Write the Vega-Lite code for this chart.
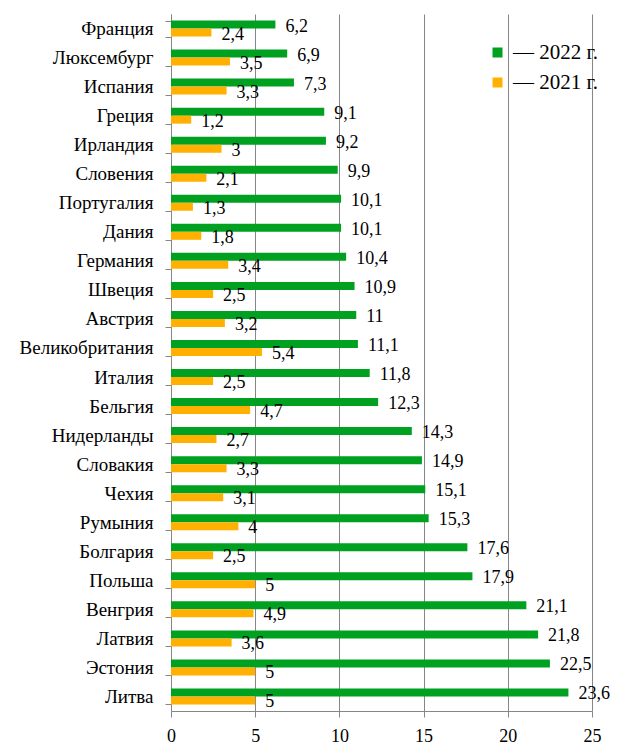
{
  "$schema": "https://vega.github.io/schema/vega-lite/v6.json",
  "width": 421,
  "height": 697,
  "autosize": {"type": "none"},
  "padding": {"left": 171, "top": 14, "right": 27, "bottom": 34},
  "background": "white",
  "config": {
    "locale": {"number": {"decimal": ",", "thousands": " ", "grouping": [3], "currency": ["", ""]}},
    "view": {"stroke": null},
    "font": "'Liberation Serif', 'DejaVu Serif', serif"
  },
  "data": {
    "values": [
      {"country": "Франция", "year": "2022", "value": 6.2},
      {"country": "Франция", "year": "2021", "value": 2.4},
      {"country": "Люксембург", "year": "2022", "value": 6.9},
      {"country": "Люксембург", "year": "2021", "value": 3.5},
      {"country": "Испания", "year": "2022", "value": 7.3},
      {"country": "Испания", "year": "2021", "value": 3.3},
      {"country": "Греция", "year": "2022", "value": 9.1},
      {"country": "Греция", "year": "2021", "value": 1.2},
      {"country": "Ирландия", "year": "2022", "value": 9.2},
      {"country": "Ирландия", "year": "2021", "value": 3},
      {"country": "Словения", "year": "2022", "value": 9.9},
      {"country": "Словения", "year": "2021", "value": 2.1},
      {"country": "Португалия", "year": "2022", "value": 10.1},
      {"country": "Португалия", "year": "2021", "value": 1.3},
      {"country": "Дания", "year": "2022", "value": 10.1},
      {"country": "Дания", "year": "2021", "value": 1.8},
      {"country": "Германия", "year": "2022", "value": 10.4},
      {"country": "Германия", "year": "2021", "value": 3.4},
      {"country": "Швеция", "year": "2022", "value": 10.9},
      {"country": "Швеция", "year": "2021", "value": 2.5},
      {"country": "Австрия", "year": "2022", "value": 11},
      {"country": "Австрия", "year": "2021", "value": 3.2},
      {"country": "Великобритания", "year": "2022", "value": 11.1},
      {"country": "Великобритания", "year": "2021", "value": 5.4},
      {"country": "Италия", "year": "2022", "value": 11.8},
      {"country": "Италия", "year": "2021", "value": 2.5},
      {"country": "Бельгия", "year": "2022", "value": 12.3},
      {"country": "Бельгия", "year": "2021", "value": 4.7},
      {"country": "Нидерланды", "year": "2022", "value": 14.3},
      {"country": "Нидерланды", "year": "2021", "value": 2.7},
      {"country": "Словакия", "year": "2022", "value": 14.9},
      {"country": "Словакия", "year": "2021", "value": 3.3},
      {"country": "Чехия", "year": "2022", "value": 15.1},
      {"country": "Чехия", "year": "2021", "value": 3.1},
      {"country": "Румыния", "year": "2022", "value": 15.3},
      {"country": "Румыния", "year": "2021", "value": 4},
      {"country": "Болгария", "year": "2022", "value": 17.6},
      {"country": "Болгария", "year": "2021", "value": 2.5},
      {"country": "Польша", "year": "2022", "value": 17.9},
      {"country": "Польша", "year": "2021", "value": 5},
      {"country": "Венгрия", "year": "2022", "value": 21.1},
      {"country": "Венгрия", "year": "2021", "value": 4.9},
      {"country": "Латвия", "year": "2022", "value": 21.8},
      {"country": "Латвия", "year": "2021", "value": 3.6},
      {"country": "Эстония", "year": "2022", "value": 22.5},
      {"country": "Эстония", "year": "2021", "value": 5},
      {"country": "Литва", "year": "2022", "value": 23.6},
      {"country": "Литва", "year": "2021", "value": 5}
    ]
  },
  "encoding": {
    "y": {
      "field": "country", "type": "nominal", "sort": null, "title": null,
      "scale": {"paddingInner": 0.45, "paddingOuter": 0.225},
      "axis": {
        "tickBand": "extent", "domainColor": "#868686", "tickColor": "#868686", "tickSize": 6,
        "labelPadding": 12, "labelFont": "'Liberation Serif', 'DejaVu Serif', serif", "labelFontSize": 19, "labelColor": "black",
        "labelLimit": 300
      }
    },
    "yOffset": {"field": "year", "type": "nominal", "sort": ["2022", "2021"], "scale": {"paddingInner": 0, "paddingOuter": 0}},
    "x": {
      "field": "value", "type": "quantitative", "title": null,
      "scale": {"domain": [0, 25], "nice": false},
      "axis": {
        "values": [0, 5, 10, 15, 20, 25], "domainColor": "#868686", "tickColor": "#868686", "tickSize": 6,
        "gridColor": "#868686", "gridOpacity": 1, "labelPadding": 10, "labelFont": "'Liberation Serif', 'DejaVu Serif', serif",
        "labelFontSize": 18, "labelColor": "black", "labelFlush": false
      }
    }
  },
  "layer": [
    {
      "mark": {"type": "bar"},
      "encoding": {
        "color": {
          "field": "year", "type": "nominal",
          "scale": {"domain": ["2022", "2021"], "range": ["#00A020", "#FFB000"]},
          "legend": {
            "title": null, "orient": "none", "legendX": 316, "legendY": 28, "padding": 0,
            "symbolType": "square", "symbolSize": 100, "symbolStrokeWidth": 0,
            "labelExpr": "'— ' + datum.label + ' г.'", "labelFont": "'Liberation Serif', 'DejaVu Serif', serif", "labelFontSize": 21,
            "labelColor": "black", "labelOffset": 5, "rowPadding": 8
          }
        }
      }
    },
    {
      "mark": {"type": "text", "align": "left", "baseline": "middle", "dx": 10, "dy": 2, "font": "'Liberation Serif', 'DejaVu Serif', serif", "fontSize": 18, "color": "black"},
      "encoding": {
        "text": {"field": "value", "type": "quantitative", "format": ".1~f"}
      }
    }
  ]
}
